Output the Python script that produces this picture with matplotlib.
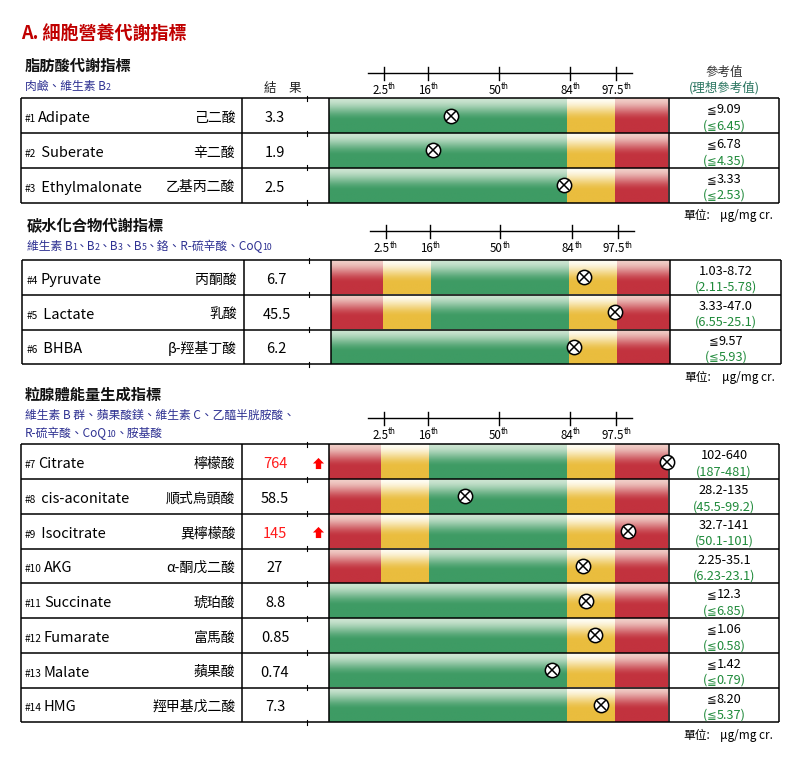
import numpy as np
import matplotlib
matplotlib.use('Agg')
import matplotlib.pyplot as plt
from matplotlib.path import Path
from matplotlib.transforms import blended_transform_factory

plt.rcParams['font.family'] = ['Noto Sans CJK TC', 'DejaVu Sans']

# ---- data ----
page_title = 'A. 細胞營養代謝指標'
section_titles = ['脂肪酸代謝指標', '碳水化合物代謝指標', '粒腺體能量生成指標']
# cofactor notes, pieces of (text, is_subscript)
section_notes = [
    [[('肉鹼、維生素 B', 0), ('2', 1)]],
    [[('維生素 B', 0), ('1', 1), ('、B', 0), ('2', 1), ('、B', 0), ('3', 1),
      ('、B', 0), ('5', 1), ('、鉻、R-硫辛酸、CoQ', 0), ('10', 1)]],
    [[('維生素 B 群、蘋果酸鎂、維生素 C、乙醯半胱胺酸、', 0)],
     [('R-硫辛酸、CoQ', 0), ('10', 1), ('、胺基酸', 0)]],
]
section_rows = [3, 3, 8]

names = ['Adipate', ' Suberate', ' Ethylmalonate',
         'Pyruvate', ' Lactate', ' BHBA',
         'Citrate', ' cis-aconitate', ' Isocitrate', 'AKG',
         'Succinate', 'Fumarate', 'Malate', 'HMG']
cn_names = ['己二酸', '辛二酸', '乙基丙二酸',
            '丙酮酸', '乳酸', 'β-羥基丁酸',
            '檸檬酸', '順式烏頭酸', '異檸檬酸', 'α-酮戊二酸',
            '琥珀酸', '富馬酸', '蘋果酸', '羥甲基戊二酸']
results = ['3.3', '1.9', '2.5', '6.7', '45.5', '6.2', '764', '58.5',
           '145', '27', '8.8', '0.85', '0.74', '7.3']
is_high = [0, 0, 0, 0, 0, 0, 1, 0, 1, 0, 0, 0, 0, 0]
ref_range = ['≦9.09', '≦6.78', '≦3.33', '1.03-8.72', '3.33-47.0', '≦9.57',
             '102-640', '28.2-135', '32.7-141', '2.25-35.1',
             '≦12.3', '≦1.06', '≦1.42', '≦8.20']
ideal_range = ['(≦6.45)', '(≦4.35)', '(≦2.53)', '(2.11-5.78)', '(6.55-25.1)',
               '(≦5.93)', '(187-481)', '(45.5-99.2)', '(50.1-101)',
               '(6.23-23.1)', '(≦6.85)', '(≦0.58)', '(≦0.79)', '(≦5.37)']
# marker position on the gauge (0 = left end, 100 = right end)
gauge_pos = [35.8, 30.5, 69.4, 74.8, 83.8, 71.6, 99.6, 40.1, 88.3,
             74.8, 75.7, 78.4, 65.8, 80.1]

pct_labels = ['2.5', '16', '50', '84', '97.5']
pct_at = [16.2, 29.2, 50.0, 71.2, 84.7]
zones_one = [(0, 70.2, 'g'), (70.2, 84.4, 'y'), (84.4, 100, 'r')]
zones_two = [(0, 15.3, 'r'), (15.3, 29.4, 'y'), (29.4, 70.2, 'g'),
             (70.2, 84.4, 'y'), (84.4, 100, 'r')]

# ---- layout (pixels) ----
W, H = 803, 770
RH = 34.75
tops = [98.3, 260.0, 444.3]
dxs = [0.0, 1.8, 0.0]
head_y = [65, 225, 394]
note_y = [[85.7], [245.7], [414.3, 432.7]]
ruler_y = [72.7, 231.0, 417.7]
col_x = [20.7, 242.3, 329.3, 668.7, 779.3]
bar_x0, bar_x1 = 329.3, 668.0

BLUE = '#2e3192'
GREEN_TXT = '#1f8a3a'
TEAL = '#2a7560'

fig = plt.figure(figsize=(W / 100, H / 100), dpi=100)
ax = fig.add_axes([0, 0, 1, 1], zorder=2)
ax.set_xlim(0, W)
ax.set_ylim(H, 0)
ax.axis('off')
ax.patch.set_alpha(0)
renderer = fig.canvas.get_renderer()


def px(pt):
    return pt * 100 / 72


def base(cy, size):
    return cy + 0.37 * px(size)


def runs(x, y, parts, ha='left', gap=0.0):
    # parts: (text, size, color, rise, kw)
    arts = []
    cx = x
    for s, size, color, rise, kw in parts:
        t = ax.text(cx, y - rise, s, fontsize=size, color=color,
                    ha='left', va='baseline', **kw)
        cx += t.get_window_extent(renderer).width + gap
        arts.append(t)
    total = cx - x - gap
    shift = {'left': 0, 'center': total / 2, 'right': total}[ha]
    for t in arts:
        t.set_x(t.get_position()[0] - shift)
    return total


def le_parts(s, size, color):
    out = []
    buf = ''
    for ch in s:
        if ch == '≦':
            if buf:
                out.append((buf, size, color, 0, {}))
                buf = ''
            out.append((ch, size * 0.9, color, 0, {'family': 'DejaVu Sans'}))
        else:
            buf += ch
    if buf:
        out.append((buf, size, color, 0, {}))
    return out


grad = {}
cols = {'g': ((205, 229, 210), (62, 155, 100)),
        'y': ((255, 253, 244), (234, 189, 62)),
        'r': ((241, 206, 200), (194, 50, 62))}
v = np.linspace(0, 1, 80)
t = np.clip(v / 0.65, 0, 1)
t = t * t * (3 - 2 * t)
for k, (c0, c1) in cols.items():
    c0 = np.array(c0) / 255
    c1 = np.array(c1) / 255
    grad[k] = (c0[None, :] * (1 - t[:, None]) + c1[None, :] * t[:, None])[:, None, :]

arrow = Path([(0, 0.5), (0.5, 0.0), (0.24, 0.0), (0.24, -0.5), (-0.24, -0.5),
              (-0.24, 0.0), (-0.5, 0.0), (0, 0.5)], closed=True)

ax.text(20.7, base(32, 13), page_title, fontsize=13, fontweight='bold',
        color='#c00000', va='baseline')
ax.text(283, base(87.7, 9), '結　果', fontsize=9, ha='center', va='baseline', color='#222222')
ax.text(724, base(71.7, 9), '參考值', fontsize=9, ha='center', va='baseline', color='#333333')
ax.text(724, base(86.7, 9), '(理想參考值)', fontsize=9, ha='center', va='baseline', color=TEAL)

LW = 1.1
start = 0
for s, n in enumerate(section_rows):
    top = tops[s]
    dx = dxs[s]
    bottom = top + n * RH

    ax.text(25 + dx, base(head_y[s], 11), section_titles[s], fontsize=11,
            fontweight='bold', va='baseline', color='#111111')
    for line, ny in zip(section_notes[s], note_y[s]):
        parts = [(txt, 6.3 if sub else 8.5, BLUE, 0, {}) for txt, sub in line]
        runs(25 + dx, base(ny, 8.5), parts, gap=-0.6)

    g = fig.add_axes([(bar_x0 + dx) / W, 1 - bottom / H,
                      (bar_x1 - bar_x0) / W, n * RH / H], zorder=1)
    g.axis('off')
    for r in range(n):
        i = start + r
        zones = zones_two if '-' in ref_range[i] else zones_one
        for u0, u1, c in zones:
            g.imshow(grad[c], extent=(u0, u1, r + 1, r), aspect='auto',
                     interpolation='bilinear')
    g.set_xlim(0, 100)
    g.set_ylim(n, 0)

    # percentile ruler
    bt = blended_transform_factory(g.transData, ax.transData)
    ry = ruler_y[s]
    ax.plot([11.5, 89.3], [ry, ry], color='black', lw=1.0, transform=bt)
    for u, lab in zip(pct_at, pct_labels):
        ax.plot([u, u], [ry - 6, ry + 7], color='black', lw=1.0, transform=bt)
        xp = ax.transData.inverted().transform(g.transData.transform((u, 0)))[0]
        runs(xp, base(ry + 17, 8.3), [(lab, 8.3, 'black', 0, {}),
                                     ('th', 5.8, 'black', 4.5, {})], ha='center')

    # table lines
    for r in range(n + 1):
        y = top + r * RH
        ax.plot([col_x[0] + dx, col_x[-1] + dx], [y, y], color='black', lw=LW,
                solid_capstyle='butt')
        ax.plot([307 + dx, 307 + dx], [y - 2.5, y + 2.5], color='black', lw=0.8)
    for cx in col_x:
        ax.plot([cx + dx, cx + dx], [top, bottom], color='black', lw=LW,
                solid_capstyle='butt')

    for r in range(n):
        i = start + r
        cy = top + (r + 0.5) * RH + 1
        runs(25 + dx, base(cy, 10.5), [('#%d' % (i + 1), 7.3, 'black', 0, {}),
                                      (names[i], 10.5, 'black', 0, {})], gap=2.0)
        ax.text(235.3 + dx, base(cy, 10), cn_names[i], fontsize=10, ha='right',
                va='baseline', color='black')
        ax.text(275 + dx, base(cy, 10.5), results[i], fontsize=10.5, ha='center',
                va='baseline', color='#ff1a1a' if is_high[i] else 'black')
        if is_high[i]:
            ax.plot(318 + dx, cy, marker=arrow, ms=8, color='#ff0000', mew=0)
        ry0 = top + r * RH
        runs(724 + dx, base(ry0 + 10.3, 9.2), le_parts(ref_range[i], 9.2, 'black'), ha='center')
        runs(724 + dx, base(ry0 + 26.3, 9.2), le_parts(ideal_range[i], 9.2, GREEN_TXT), ha='center')
        ax.plot(gauge_pos[i], r + 0.5, transform=g.transData, marker='o', ms=10.3,
                mfc='white', mec='black', mew=1.1, clip_on=False, zorder=5)
        ax.plot(gauge_pos[i], r + 0.5, transform=g.transData, marker='x', ms=6.8,
                mec='black', mew=1.1, clip_on=False, zorder=6)

    ax.text(683 + dx, base(bottom + 12, 8.5), '單位:', fontsize=8.5, va='baseline')
    ax.text(720 + dx, base(bottom + 12, 8.5), 'μg/mg cr.', fontsize=8.5, va='baseline')
    start += n

fig.savefig('out.png', dpi=100)
